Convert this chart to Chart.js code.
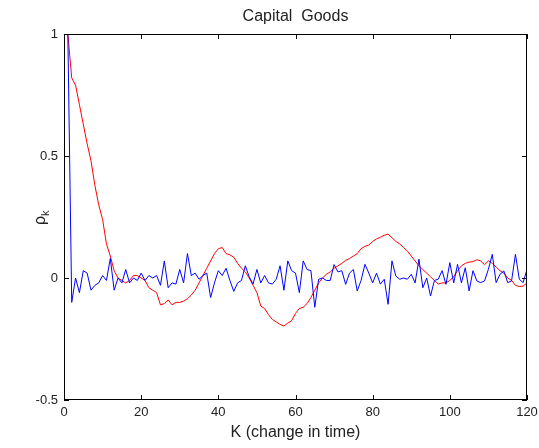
<!DOCTYPE html>
<html>
<head>
<meta charset="utf-8">
<script src="https://cdn.jsdelivr.net/npm/chart.js@4/dist/chart.umd.min.js"></script>
<style>
  html, body { margin: 0; padding: 0; background: #fff; }
  #wrap { width: 539px; height: 448px; position: relative; }
</style>
</head>
<body>
<div id="wrap"><canvas id="chart"></canvas></div>
<script>
// Autocorrelation by lag, lags 1..120
const redSeries = [
  1.00, 0.82, 0.79, 0.71, 0.63, 0.55, 0.48, 0.38, 0.30, 0.24,
  0.14, 0.09, 0.03, 0.00, -0.01, -0.02, -0.01, 0.01, 0.01, 0.00,
  -0.01, -0.04, -0.05, -0.06, -0.11, -0.105, -0.09, -0.11, -0.10, -0.10,
  -0.095, -0.085, -0.07, -0.05, -0.02, 0.01, 0.04, 0.07, 0.10, 0.12,
  0.125, 0.10, 0.095, 0.085, 0.06, 0.04, 0.025, 0.00, -0.03, -0.06,
  -0.115, -0.125, -0.15, -0.17, -0.18, -0.19, -0.197, -0.185, -0.175, -0.145,
  -0.125, -0.12, -0.105, -0.08, -0.05, -0.02, 0.00, 0.015, 0.025, 0.04,
  0.05, 0.06, 0.072, 0.08, 0.09, 0.10, 0.12, 0.13, 0.135, 0.15,
  0.16, 0.167, 0.175, 0.18, 0.165, 0.15, 0.14, 0.125, 0.11, 0.09,
  0.07, 0.05, 0.035, 0.02, 0.005, -0.01, -0.025, -0.02, -0.02, -0.01,
  0.005, 0.03, 0.05, 0.06, 0.065, 0.067, 0.075, 0.07, 0.055, 0.07,
  0.06, 0.045, 0.03, 0.02, 0.00, -0.01, -0.03, -0.035, -0.033, -0.02
];
const blueSeries = [
  1.00, -0.10, 0.00, -0.06, 0.03, 0.02, -0.05, -0.03, -0.02, 0.01,
  -0.01, 0.08, -0.05, 0.00, -0.02, 0.035, -0.02, 0.00, -0.01, 0.02,
  -0.01, 0.01, 0.00, 0.01, -0.03, 0.07, -0.04, -0.02, -0.025, 0.035,
  -0.02, 0.10, 0.01, 0.02, -0.005, 0.01, 0.02, -0.08, -0.02, 0.03,
  0.01, 0.04, -0.01, -0.055, -0.02, -0.01, 0.05, 0.005, -0.025, 0.035,
  -0.02, 0.01, -0.02, -0.025, -0.005, 0.05, -0.05, 0.07, 0.03, 0.02,
  -0.06, 0.07, 0.035, 0.03, -0.12, -0.005, 0.00, -0.01, -0.01, 0.055,
  0.025, 0.03, -0.026, 0.02, 0.035, -0.053, -0.01, 0.056, 0.02, -0.02,
  0.02, -0.025, -0.005, -0.108, 0.07, 0.008, -0.005, 0.00, -0.005, 0.015,
  -0.02, 0.077, -0.04, 0.00, -0.074, -0.01, -0.005, 0.03, -0.026, 0.063,
  -0.02, 0.056, -0.02, 0.042, -0.053, 0.03, -0.012, -0.019, -0.012, 0.036,
  0.097, -0.019, 0.015, 0.029, -0.019, -0.012, 0.097, -0.005, -0.019, 0.036
];
const lags = redSeries.map((_, i) => i + 1);
const xTicks = [0, 20, 40, 60, 80, 100, 120];
const yTicks = [-0.5, 0, 0.5, 1];

const FONT = '"Liberation Sans", Arial, sans-serif';
const toPoints = values => values.map((v, i) => ({ x: lags[i], y: v }));

// Frame, inward tick marks, title and the rho_k label
const framePlugin = {
  id: 'frame',
  afterDraw(chart) {
    const { ctx, chartArea: a, scales } = chart;
    ctx.save();
    ctx.strokeStyle = '#000';
    ctx.lineWidth = 1;
    ctx.strokeRect(a.left + 0.5, a.top + 0.5, a.right - a.left - 1, a.bottom - a.top - 1);
    ctx.beginPath();
    xTicks.forEach(t => {
      const x = Math.round(scales.x.getPixelForValue(t)) + 0.5;
      ctx.moveTo(x, a.bottom); ctx.lineTo(x, a.bottom - 5);
      ctx.moveTo(x, a.top); ctx.lineTo(x, a.top + 5);
    });
    yTicks.forEach(t => {
      const y = Math.round(scales.y.getPixelForValue(t)) + 0.5;
      ctx.moveTo(a.left, y); ctx.lineTo(a.left + 5, y);
      ctx.moveTo(a.right, y); ctx.lineTo(a.right - 5, y);
    });
    ctx.stroke();

    ctx.fillStyle = '#222';
    ctx.font = '16px ' + FONT;
    ctx.textAlign = 'center';
    ctx.textBaseline = 'middle';
    ctx.fillText('Capital  Goods', (a.left + a.right) / 2, 17);

    ctx.translate(45, (a.top + a.bottom) / 2);
    ctx.rotate(-Math.PI / 2);
    ctx.textAlign = 'left';
    ctx.textBaseline = 'alphabetic';
    ctx.font = '16px ' + FONT;
    ctx.fillText('\u03C1', -8, 0);
    ctx.font = '11px ' + FONT;
    ctx.fillText('k', 1, 4);
    ctx.restore();
  }
};

const chart = new Chart(document.getElementById('chart'), {
  type: 'line',
  data: {
    datasets: [
      { data: toPoints(blueSeries), borderColor: '#0000ff', borderWidth: 1, pointRadius: 0, tension: 0 },
      { data: toPoints(redSeries), borderColor: '#ff0000', borderWidth: 1, pointRadius: 0, tension: 0 }
    ]
  },
  options: {
    responsive: true,
    maintainAspectRatio: false,
    animation: false,
    layout: { padding: { top: 34, right: 12, bottom: 0, left: 0 } },
    plugins: { legend: { display: false }, tooltip: { enabled: false }, title: { display: false } },
    scales: {
      x: {
        type: 'linear',
        min: 0,
        max: 120,
        afterBuildTicks: s => { s.ticks = xTicks.map(v => ({ value: v })); },
        afterFit: s => { s.height = 48; s.paddingLeft = 0; s.paddingRight = 0; },
        grid: { display: false, drawTicks: false },
        border: { display: false },
        ticks: { padding: 5, color: '#222', maxRotation: 0, font: { family: FONT, size: 13 } },
        title: {
          display: true,
          text: 'K (change in time)',
          color: '#222',
          padding: { top: 0, bottom: 6 },
          font: { family: FONT, size: 16 }
        }
      },
      y: {
        min: -0.5,
        max: 1,
        afterBuildTicks: s => { s.ticks = yTicks.map(v => ({ value: v })); },
        afterFit: s => { s.width = 64; s.paddingTop = 0; s.paddingBottom = 0; },
        grid: { display: false, drawTicks: false },
        border: { display: false },
        ticks: { padding: 6, color: '#222', callback: v => String(v), font: { family: FONT, size: 13 } }
      }
    }
  },
  plugins: [framePlugin]
});
</script>
</body>
</html>
